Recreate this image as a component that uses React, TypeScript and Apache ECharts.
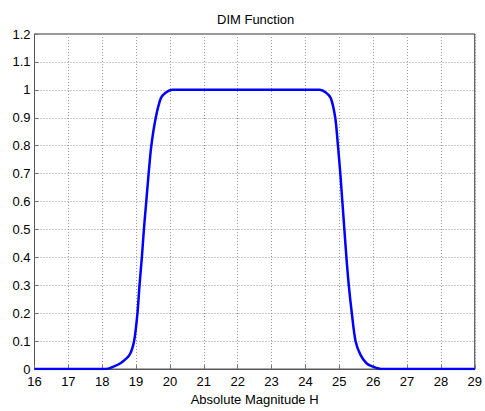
import React, { useEffect, useRef } from "react";
import * as echarts from "echarts";

// Absolute magnitude H (x) and DIM function value (y)
const hValues = [
  16, 18.1, 18.35, 18.55, 18.8, 18.94, 19.04, 19.1, 19.17, 19.23, 19.3, 19.37, 19.45, 19.58, 19.73, 19.87, 20.07,
  24.42, 24.61, 24.75, 24.88, 24.96, 25.03, 25.09, 25.15, 25.21, 25.28, 25.37, 25.48, 25.63, 25.81, 25.97, 26.27, 29,
];
const dimValues = [
  0, 0, 0.01, 0.022, 0.05, 0.1, 0.2, 0.3, 0.4, 0.5, 0.6, 0.7, 0.8, 0.9, 0.97, 0.99, 1.0,
  1.0, 0.99, 0.97, 0.9, 0.8, 0.7, 0.6, 0.5, 0.4, 0.3, 0.2, 0.1, 0.05, 0.02, 0.01, 0, 0,
];

const titleText = "DIM Function";
const xAxisName = "Absolute Magnitude H";
const xMin = 16;
const xMax = 29;
const xStep = 1;
const yMin = 0;
const yMax = 1.2;
const yStep = 0.1;

const FONT = "'Liberation Sans', Arial, Helvetica, sans-serif";

export default function App() {
  const ref = useRef<HTMLDivElement>(null);

  useEffect(() => {
    if (!ref.current) return;
    const chart = echarts.init(ref.current, null, { renderer: "svg" });
    const data = hValues.map((h, i) => [h, dimValues[i]]);
    chart.setOption({
      animation: false,
      backgroundColor: "#ffffff",
      textStyle: { fontFamily: FONT, color: "#000" },
      title: {
        text: titleText,
        left: 217,
        top: 13,
        padding: 0,
        textStyle: { fontFamily: FONT, fontSize: 13, fontWeight: "normal", color: "#000" },
      },
      grid: {
        left: 34.5,
        right: 6,
        top: 34,
        bottom: 33.5,
        show: true,
        borderColor: "#333",
        borderWidth: 1,
        backgroundColor: "transparent",
      },
      xAxis: {
        type: "value",
        min: xMin,
        max: xMax,
        interval: xStep,
        name: xAxisName,
        nameLocation: "middle",
        nameGap: 20,
        nameTextStyle: { fontFamily: FONT, fontSize: 13, color: "#000" },
        axisLine: { show: true, lineStyle: { color: "#555", width: 1 } },
        axisTick: { show: true, inside: true, length: 4, lineStyle: { color: "#777" } },
        axisLabel: {
          fontFamily: FONT,
          fontSize: 13,
          lineHeight: 13,
          color: "#000",
          margin: 6,
          showMaxLabel: true,
          showMinLabel: true,
        },
        splitLine: { show: true, lineStyle: { type: [1, 2], color: "#999", width: 1 } },
      },
      yAxis: {
        type: "value",
        min: yMin,
        max: yMax,
        interval: yStep,
        axisLine: { show: true, lineStyle: { color: "#555", width: 1 } },
        axisTick: { show: true, inside: true, length: 4, lineStyle: { color: "#777" } },
        axisLabel: {
          fontFamily: FONT,
          fontSize: 13,
          lineHeight: 12,
          color: "#000",
          margin: 4,
          formatter: (v: number) => String(parseFloat(v.toFixed(1))),
        },
        splitLine: { show: true, lineStyle: { type: [1, 2], color: "#999", width: 1 } },
      },
      series: [
        {
          type: "line",
          data,
          showSymbol: false,
          smooth: 0.3,
          lineStyle: { color: "#0000ff", width: 2.5 },
          itemStyle: { color: "#0000ff" },
          z: 5,
        },
      ],
    });
    return () => {
      chart.dispose();
    };
  }, []);

  return (
    <div
      ref={ref}
      style={{ position: "fixed", left: 0, top: 0, width: 485, height: 411, background: "#fff" }}
    />
  );
}
